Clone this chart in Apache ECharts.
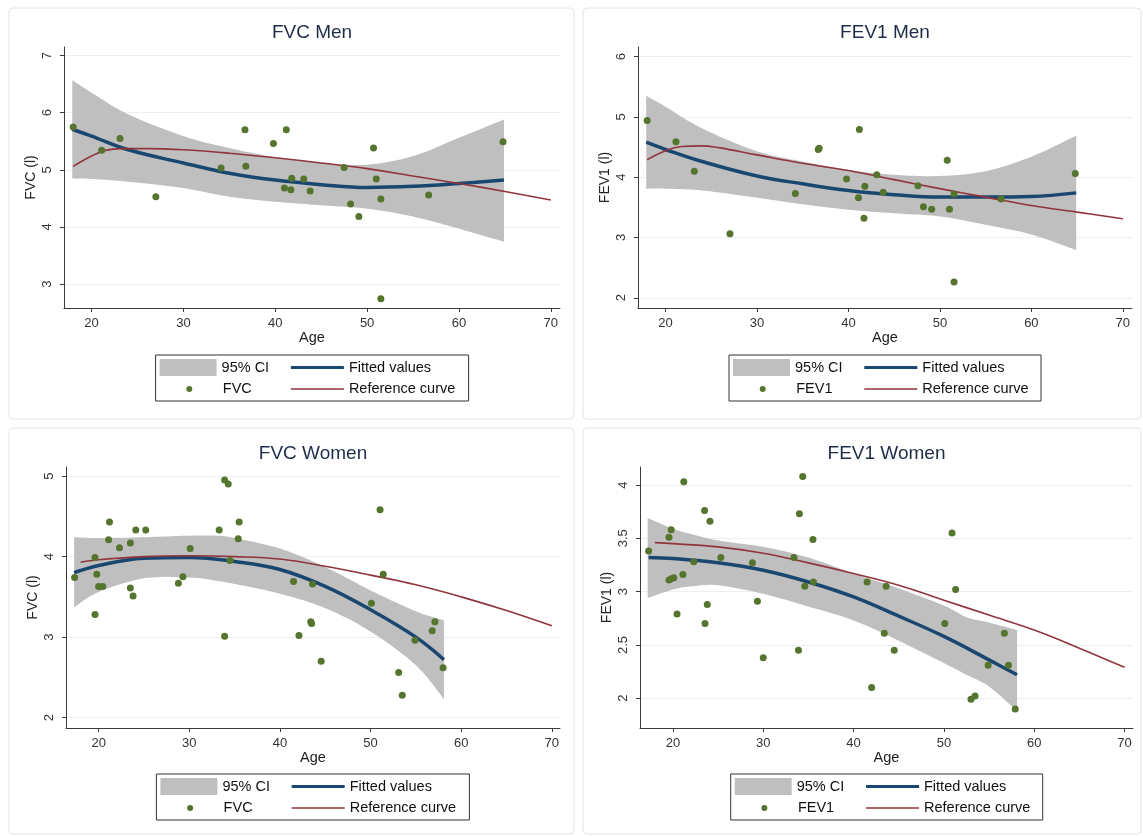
<!DOCTYPE html>
<html>
<head>
<meta charset="utf-8">
<script src="https://cdn.jsdelivr.net/npm/echarts@6/dist/echarts.min.js"></script>
<style>
html,body{margin:0;padding:0;background:#fff;}
#chart{width:1143px;height:836px;}
</style>
</head>
<body>
<div id="chart"></div>
<script>
// ---------------- DATA ----------------
const xTicks = [20, 30, 40, 50, 60, 70];
const fvcMenTicks = [3, 4, 5, 6, 7];
const fev1MenTicks = [2, 3, 4, 5, 6];
const fvcWomenTicks = [2, 3, 4, 5];
const fev1WomenTicks = [2, 2.5, 3, 3.5, 4];

// Men: observed points
const menAge = [18.0, 21.1, 23.1, 27.0, 34.1, 36.7, 36.8, 39.8, 41.2, 41.0, 41.7, 41.8, 43.1, 43.8, 47.5, 48.2, 49.1, 50.7, 51.0, 51.5, 51.5, 56.7, 64.8];
const menFVC = [5.75, 5.34, 5.55, 4.53, 5.03, 5.70, 5.06, 5.46, 5.70, 4.68, 4.65, 4.85, 4.84, 4.63, 5.04, 4.40, 4.18, 5.38, 4.84, 4.49, 2.74, 4.56, 5.49];
const menFEV1Age = [18.0, 21.15, 23.15, 27.05, 34.2, 36.7, 36.8, 39.8, 41.2, 41.1, 41.7, 41.8, 43.1, 43.8, 47.6, 48.2, 49.1, 50.8, 51.05, 51.55, 51.55, 56.7, 64.8];
const menFEV1 = [4.94, 4.59, 4.10, 3.06, 3.73, 4.46, 4.48, 3.97, 4.79, 3.66, 3.32, 3.85, 4.04, 3.75, 3.86, 3.51, 3.47, 4.28, 3.47, 3.72, 2.26, 3.64, 4.06];

// Men FVC: fit, CI, reference
const menFvcCurveAge = [17.9, 20, 24, 30, 35, 40, 45, 50, 55, 60, 64.9];
const menFvcFit = [5.71, 5.59, 5.35, 5.12, 4.94, 4.82, 4.74, 4.69, 4.71, 4.76, 4.82];
const menFvcCiHi = [6.57, 6.35, 5.97, 5.59, 5.38, 5.22, 5.12, 5.09, 5.24, 5.56, 5.88];
const menFvcCiLo = [4.85, 4.84, 4.79, 4.68, 4.53, 4.44, 4.38, 4.32, 4.18, 3.97, 3.74];
const menFvcRefAge = [18, 20, 21.5, 23.3, 26, 30, 35, 40, 45, 50, 55, 60, 65, 70];
const menFvcRef = [5.06, 5.24, 5.34, 5.37, 5.37, 5.35, 5.29, 5.21, 5.12, 5.02, 4.89, 4.76, 4.62, 4.47];

// Men FEV1: fit, CI, reference
const menFev1CurveAge = [17.9, 20, 24, 30, 35, 40, 45, 50, 55, 60, 64.9];
const menFev1Fit = [4.58, 4.46, 4.26, 4.02, 3.89, 3.78, 3.71, 3.67, 3.67, 3.68, 3.74];
const menFev1CiHi = [5.35, 5.17, 4.81, 4.43, 4.26, 4.12, 4.04, 4.02, 4.10, 4.34, 4.69];
const menFev1CiLo = [3.81, 3.81, 3.78, 3.66, 3.55, 3.46, 3.40, 3.35, 3.21, 3.05, 2.79];
const menFev1RefAge = [18, 20, 21.8, 24, 25.8, 30, 35, 40, 45, 50, 55, 60, 65, 70];
const menFev1Ref = [4.29, 4.44, 4.51, 4.52, 4.49, 4.37, 4.23, 4.11, 3.96, 3.81, 3.67, 3.53, 3.42, 3.31];

// Women FVC: observed points
const womenFvcAge = [17.35, 19.6, 19.6, 19.8, 20.0, 20.45, 21.1, 21.2, 22.3, 23.5, 23.5, 23.8, 24.1, 25.2, 28.8, 29.3, 30.1, 33.3, 33.9, 33.9, 34.3, 34.5, 35.5, 35.4, 41.5, 42.1, 43.4, 43.5, 43.6, 44.55, 50.1, 51.05, 51.4, 53.1, 53.5, 54.9, 56.8, 57.1, 58.0];
const womenFVC = [3.74, 3.99, 3.28, 3.78, 3.63, 3.63, 4.21, 4.43, 4.11, 4.17, 3.61, 3.51, 4.33, 4.33, 3.67, 3.75, 4.10, 4.33, 4.95, 3.01, 4.90, 3.95, 4.43, 4.22, 3.69, 3.02, 3.19, 3.17, 3.66, 2.70, 3.42, 4.58, 3.78, 2.56, 2.28, 2.96, 3.08, 3.19, 2.62];
// Women FVC: fit, CI, reference
const womenFvcFitAge = [17.3, 20, 25, 30, 35, 40, 45, 50, 55, 58.1];
const womenFvcFit = [3.80, 3.89, 3.98, 3.99, 3.94, 3.84, 3.63, 3.34, 3.00, 2.72];
const womenFvcCiAge = [17.3, 20, 25, 30, 33, 35, 40, 45, 50, 55, 58.1];
const womenFvcCiHi = [4.24, 4.23, 4.24, 4.26, 4.26, 4.23, 4.10, 3.87, 3.58, 3.32, 3.21];
const womenFvcCiLo = [3.37, 3.56, 3.73, 3.74, 3.70, 3.66, 3.54, 3.36, 3.07, 2.65, 2.23];
const womenFvcRefAge = [18, 20, 25, 30, 35, 40, 45, 50, 55, 60, 65, 70];
const womenFvcRef = [3.93, 3.96, 4.00, 4.01, 4.00, 3.97, 3.88, 3.77, 3.65, 3.50, 3.33, 3.14];

// Women FEV1: observed points
const womenFev1Age = [17.3, 19.56, 19.56, 19.8, 19.82, 20.1, 20.45, 21.1, 21.2, 22.3, 23.5, 23.55, 23.8, 24.1, 25.3, 28.8, 29.35, 30.0, 33.4, 34.0, 33.9, 34.37, 34.6, 35.5, 35.55, 41.5, 42.0, 43.4, 43.6, 44.5, 50.1, 50.9, 51.3, 53.0, 53.45, 54.9, 56.7, 57.15, 57.9];
const womenFEV1 = [3.38, 3.11, 3.51, 3.58, 3.12, 3.13, 2.79, 3.16, 4.03, 3.28, 3.76, 2.70, 2.88, 3.66, 3.32, 3.27, 2.91, 2.38, 3.32, 3.73, 2.45, 4.08, 3.05, 3.49, 3.09, 3.09, 2.10, 2.61, 3.05, 2.45, 2.70, 3.55, 3.02, 1.99, 2.02, 2.31, 2.61, 2.31, 1.90];
// Women FEV1: fit, CI, reference
const womenFev1FitAge = [17.3, 20, 25, 30, 35, 40, 45, 50, 55, 58.1];
const womenFev1Fit = [3.32, 3.31, 3.27, 3.20, 3.09, 2.95, 2.77, 2.58, 2.36, 2.22];
const womenFev1CiAge = [17.2, 20, 22, 25, 30, 35, 40, 45, 50, 52.5, 55, 58.1];
const womenFev1CiHi = [3.69, 3.59, 3.54, 3.48, 3.42, 3.32, 3.17, 3.03, 2.87, 2.76, 2.71, 2.64];
const womenFev1CiLo = [2.94, 3.02, 3.05, 3.06, 2.98, 2.86, 2.73, 2.54, 2.33, 2.22, 2.11, 1.88];
const womenFev1RefAge = [18, 20, 25, 30, 35, 40, 45, 50, 55, 60, 65, 70];
const womenFev1Ref = [3.46, 3.45, 3.42, 3.36, 3.27, 3.17, 3.06, 2.92, 2.78, 2.64, 2.47, 2.29];

// ---------------- STYLE / LAYOUT ----------------
const FONT = '"Liberation Sans", Arial, Helvetica, sans-serif';
const C_CI = '#bfbfbf', C_FIT = '#1a476f', C_REF = '#90353b', C_DOT = '#55752f';
const C_AXIS = '#3a3a3a', C_GRID = '#eceff0', C_TITLE = '#1e2c48';

const zip = (a, b) => a.map((v, i) => [v, b[i]]);
const zip3 = (a, b, c) => a.map((v, i) => [v, b[i], c[i]]);

const panels = [
  { title: 'FVC Men', yName: 'FVC (l)', dotName: 'FVC',
    grid: { left: 64, top: 47, width: 496, height: 261 }, xMin: 17, xMax: 71, yMin: 2.58, yMax: 7.15, yTicks: fvcMenTicks,
    pts: zip(menAge, menFVC), ci: zip3(menFvcCurveAge, menFvcCiLo, menFvcCiHi),
    fit: zip(menFvcCurveAge, menFvcFit), ref: zip(menFvcRefAge, menFvcRef),
    titleTop: 23.5, legBox: { x: 155.6, y: 355, w: 313, h: 46 } },
  { title: 'FEV1 Men', yName: 'FEV1 (l)', dotName: 'FEV1',
    grid: { left: 638, top: 47, width: 494, height: 261 }, xMin: 17, xMax: 71, yMin: 1.83, yMax: 6.16, yTicks: fev1MenTicks,
    pts: zip(menFEV1Age, menFEV1), ci: zip3(menFev1CurveAge, menFev1CiLo, menFev1CiHi),
    fit: zip(menFev1CurveAge, menFev1Fit), ref: zip(menFev1RefAge, menFev1Ref),
    titleTop: 23.5, legBox: { x: 729, y: 355, w: 312, h: 46 } },
  { title: 'FVC Women', yName: 'FVC (l)', dotName: 'FVC',
    grid: { left: 66, top: 467, width: 494, height: 261 }, xMin: 16.4, xMax: 70.9, yMin: 1.872, yMax: 5.112, yTicks: fvcWomenTicks,
    pts: zip(womenFvcAge, womenFVC), ci: zip3(womenFvcCiAge, womenFvcCiLo, womenFvcCiHi),
    fit: zip(womenFvcFitAge, womenFvcFit), ref: zip(womenFvcRefAge, womenFvcRef),
    titleTop: 443.8, legBox: { x: 156.4, y: 774, w: 313, h: 46 } },
  { title: 'FEV1 Women', yName: 'FEV1 (l)', dotName: 'FEV1',
    grid: { left: 640, top: 467, width: 493, height: 261 }, xMin: 16.35, xMax: 70.94, yMin: 1.721, yMax: 4.169, yTicks: fev1WomenTicks,
    pts: zip(womenFev1Age, womenFEV1), ci: zip3(womenFev1CiAge, womenFev1CiLo, womenFev1CiHi),
    fit: zip(womenFev1FitAge, womenFev1Fit), ref: zip(womenFev1RefAge, womenFev1Ref),
    titleTop: 443.8, legBox: { x: 730.7, y: 774, w: 312, h: 46 } }
];

const frames = [
  { x: 9, y: 8, w: 565, h: 411 }, { x: 583, y: 8, w: 558, h: 411 },
  { x: 9, y: 428, w: 565, h: 406 }, { x: 583, y: 428, w: 558, h: 406 }
];

// Catmull-Rom smoothing of pixel points (rendering only)
function smoothPts(pts, seg) {
  const out = [];
  const n = pts.length;
  for (let i = 0; i < n - 1; i++) {
    const p0 = pts[Math.max(i - 1, 0)], p1 = pts[i], p2 = pts[i + 1], p3 = pts[Math.min(i + 2, n - 1)];
    const c1 = [p1[0] + (p2[0] - p0[0]) / 6, p1[1] + (p2[1] - p0[1]) / 6];
    const c2 = [p2[0] - (p3[0] - p1[0]) / 6, p2[1] - (p3[1] - p1[1]) / 6];
    for (let s = 0; s < seg; s++) {
      const t = s / seg, u = 1 - t;
      out.push([
        u*u*u*p1[0] + 3*u*u*t*c1[0] + 3*u*t*t*c2[0] + t*t*t*p2[0],
        u*u*u*p1[1] + 3*u*u*t*c1[1] + 3*u*t*t*c2[1] + t*t*t*p2[1]
      ]);
    }
  }
  out.push(pts[n - 1]);
  return out;
}

function bandRenderer(count) {
  return function (params, api) {
    if (params.dataIndexInside !== 0) return null;
    const up = [], lo = [];
    for (let k = 0; k < count; k++) {
      const x = api.value(0, k);
      lo.push(api.coord([x, api.value(1, k)]));
      up.push(api.coord([x, api.value(2, k)]));
    }
    const poly = smoothPts(up, 12).concat(smoothPts(lo, 12).reverse());
    return { type: 'polygon', shape: { points: poly }, style: { fill: C_CI, stroke: null } };
  };
}

const grids = [], xAxes = [], yAxes = [], series = [], titles = [], legends = [], graphics = [];

frames.forEach(f => graphics.push({
  type: 'rect', shape: { x: f.x, y: f.y, width: f.w, height: f.h, r: 4 }, z: -10,
  style: { fill: '#fff', stroke: '#e4e4e4', lineWidth: 1 }
}));

function legendItem(left, top, name, w, h, icon, color) {
  return {
    left: left, top: top, padding: 0, itemWidth: w, itemHeight: h, selectedMode: false,
    data: [{ name: name, icon: icon, itemStyle: { color: color, opacity: 1, borderWidth: 0 } }],
    textStyle: { fontFamily: FONT, fontSize: 14.5, color: '#111', lineHeight: 20, padding: 0 }
  };
}

panels.forEach((p, i) => {
  grids.push(Object.assign({ containLabel: false }, p.grid));
  const cx = p.grid.left + p.grid.width / 2;
  titles.push({ text: p.title, left: cx, top: p.titleTop, textAlign: 'center', padding: 0,
    textStyle: { fontFamily: FONT, fontSize: 19, fontWeight: 'normal', color: C_TITLE } });

  xAxes.push({
    type: 'value', gridIndex: i, min: p.xMin, max: p.xMax,
    name: 'Age', nameLocation: 'middle', nameGap: 22,
    nameTextStyle: { fontFamily: FONT, fontSize: 14.5, color: '#222' },
    axisLine: { show: true, onZero: false, lineStyle: { color: C_AXIS, width: 1 } },
    axisTick: { show: true, length: 4, customValues: xTicks, lineStyle: { color: C_AXIS } },
    axisLabel: { customValues: xTicks, margin: 9, fontFamily: FONT, fontSize: 13, color: '#333' },
    splitLine: { show: false }
  });
  yAxes.push({
    type: 'value', gridIndex: i, min: p.yMin, max: p.yMax,
    name: p.yName, nameLocation: 'middle', nameGap: 26,
    nameTextStyle: { fontFamily: FONT, fontSize: 14, color: '#222' },
    axisLine: { show: true, onZero: false, lineStyle: { color: C_AXIS, width: 1 } },
    axisTick: { show: true, length: 4, customValues: p.yTicks, lineStyle: { color: C_AXIS } },
    axisLabel: { customValues: p.yTicks, rotate: 90, margin: 10, fontFamily: FONT, fontSize: 13, color: '#333' },
    splitLine: { show: true, lineStyle: { color: C_GRID, width: 1 } }
  });

  series.push({
    type: 'custom', name: '95% CI', xAxisIndex: i, yAxisIndex: i,
    data: p.ci, encode: { x: 0, y: [1, 2] }, renderItem: bandRenderer(p.ci.length),
    itemStyle: { color: C_CI }, silent: true, clip: true, z: 1
  });
  series.push({
    type: 'line', name: 'Fitted values', xAxisIndex: i, yAxisIndex: i,
    data: p.fit, smooth: 0.4, showSymbol: false, silent: true,
    lineStyle: { color: C_FIT, width: 3.5 }, itemStyle: { color: C_FIT }, z: 2
  });
  series.push({
    type: 'line', name: 'Reference curve', xAxisIndex: i, yAxisIndex: i,
    data: p.ref, smooth: 0.4, showSymbol: false, silent: true,
    lineStyle: { color: C_REF, width: 1.6 }, itemStyle: { color: C_REF }, z: 3
  });
  series.push({
    type: 'scatter', name: p.dotName, xAxisIndex: i, yAxisIndex: i,
    data: p.pts, symbol: 'circle', symbolSize: 7, silent: true,
    itemStyle: { color: C_DOT, opacity: 1 }, z: 4
  });

  const b = p.legBox;
  const r1 = b.y + 12.5, r2 = b.y + 34;
  const iconL = b.x + 4, lineL = b.x + 135.3;
  legends.push(legendItem(iconL, r1 - 10, '95% CI', 57, 17, 'rect', C_CI));
  legends.push(legendItem(b.x + 30.7, r2 - 10, p.dotName, 57, 6, 'circle', C_DOT));
  legends.push(legendItem(lineL, r1 - 10, 'Fitted values', 53, 3, 'rect', C_FIT));
  legends.push(legendItem(lineL, r2 - 10, 'Reference curve', 53, 1.6, 'rect', C_REF));
  graphics.push({
    type: 'rect', shape: { x: b.x, y: b.y, width: b.w, height: b.h }, z: 5,
    style: { fill: 'none', stroke: '#333', lineWidth: 1 }
  });
});

const chart = echarts.init(document.getElementById('chart'), null, { renderer: 'canvas' });
chart.setOption({
  animation: false,
  backgroundColor: '#ffffff',
  title: titles,
  grid: grids,
  xAxis: xAxes,
  yAxis: yAxes,
  legend: legends,
  graphic: graphics,
  tooltip: { show: false },
  series: series
});
</script>
</body>
</html>
